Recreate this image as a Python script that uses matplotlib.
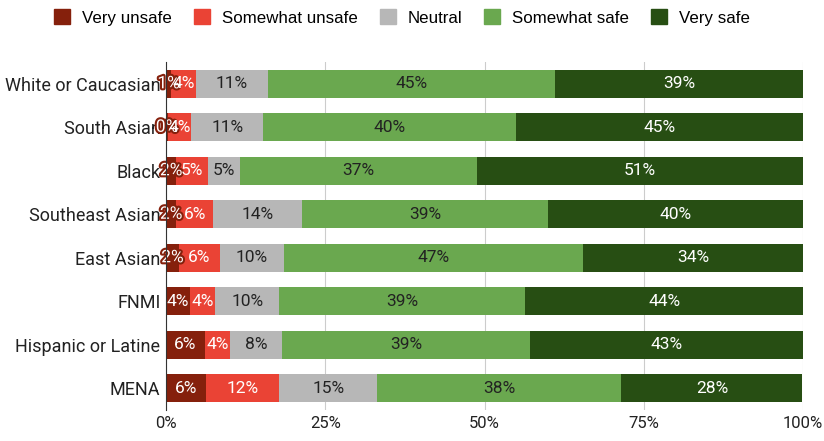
import numpy as np
import matplotlib.pyplot as plt
import matplotlib.patheffects as pe
from matplotlib.patches import Patch

plt.rcParams['font.family'] = ['Roboto', 'DejaVu Sans']

groups = ['White or Caucasian', 'South Asian', 'Black', 'Southeast Asian',
          'East Asian', 'FNMI', 'Hispanic or Latine', 'MENA']
categories = ['Very unsafe', 'Somewhat unsafe', 'Neutral', 'Somewhat safe', 'Very safe']

# shares in percent, one list per response category (same order as groups)
very_unsafe = [0.8, 0.3, 1.6, 1.6, 2.0, 3.7, 6.1, 6.3]
somewhat_unsafe = [3.9, 3.6, 5.0, 5.8, 6.4, 4.0, 3.9, 11.5]
neutral = [11.3, 11.4, 5.0, 14.0, 10.1, 10.1, 8.2, 15.3]
somewhat_safe = [45.1, 39.7, 37.2, 38.6, 47.0, 38.6, 38.9, 38.4]
very_safe = [38.9, 45.0, 51.2, 40.0, 34.5, 43.6, 42.9, 28.4]

colors = ['#85200c', '#ea4335', '#b7b7b7', '#6aa84f', '#274e13']
text_colors = ['white', 'white', '#222222', '#222222', 'white']

series = [very_unsafe, somewhat_unsafe, neutral, somewhat_safe, very_safe]

fig = plt.figure(figsize=(8.24, 4.41), dpi=100)
ax = fig.add_axes([0.2015, 0.0703, 0.773, 0.789])

y = np.arange(len(groups))
left = np.zeros(len(groups))
for vals, col, tcol in zip(series, colors, text_colors):
    vals = np.array(vals)
    ax.barh(y, vals, left=left, height=0.64, color=col, zorder=2)
    for yi, (l, v) in enumerate(zip(left, vals)):
        txt = ax.text(l + v / 2, yi, f'{v:.0f}%', ha='center', va='center',
                      fontsize=12.5, color=tcol, zorder=3)
        if v < 3:
            txt.set_path_effects([pe.withStroke(linewidth=3, foreground=colors[0])])
    left += vals

ax.set_xlim(0, 100)
ax.set_ylim(len(groups) - 0.5, -0.5)
ax.set_yticks(y)
ax.set_yticklabels(groups, fontsize=13, color='#222222')
ax.set_xticks([0, 25, 50, 75, 100])
ax.set_xticklabels(['0%', '25%', '50%', '75%', '100%'], fontsize=12, color='#222222')
ax.tick_params(length=0, pad=4)
ax.grid(axis='x', color='#cccccc', linewidth=0.8, zorder=0)
for s in ['top', 'right', 'bottom']:
    ax.spines[s].set_visible(False)
ax.spines['left'].set_color('#333333')
ax.spines['left'].set_zorder(4)

handles = [Patch(facecolor=c, edgecolor=c) for c in colors]
fig.legend(handles, categories, loc='center', bbox_to_anchor=(402 / 824, 1 - 17.5 / 441),
           ncol=5, frameon=False, handlelength=0.95, handleheight=0.95,
           handletextpad=0.7, columnspacing=1.3,
           prop={'family': ['Liberation Sans', 'DejaVu Sans'], 'size': 12.2})

fig.savefig('out.png', dpi=100)
